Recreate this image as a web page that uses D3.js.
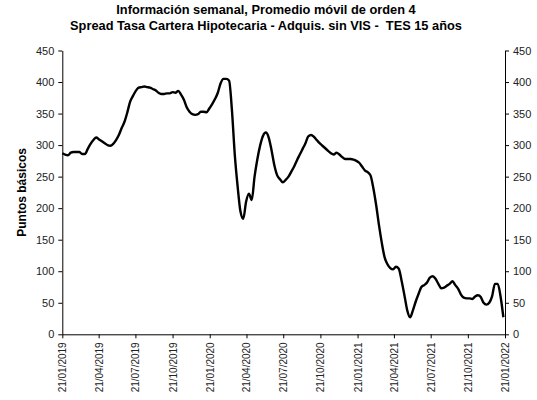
<!DOCTYPE html>
<html>
<head>
<meta charset="utf-8">
<script src="https://cdn.jsdelivr.net/npm/d3@7"></script>
<style>
  body { margin: 0; background: #fff; }
  svg { display: block; font-family: "Liberation Sans", Arial, sans-serif; }
</style>
</head>
<body>
<div id="chart"></div>
<script>
// datos semanales (pb), desde 21/01/2019
const startDate = "2019-01-21";
const spread = [
  287, 285, 284, 288, 289, 289, 289, 286, 286, 294,
  302, 308, 312, 309, 306, 303, 300, 299, 302, 308,
  316, 327, 337, 352, 369, 378, 386, 391, 392, 393,
  392, 391, 389, 387, 383, 381, 381, 382, 382, 384,
  383, 386, 380, 372, 360, 353, 349, 348, 349, 353,
  353, 352, 358, 365, 373, 383, 398, 405, 405, 402,
  355, 285, 235, 195, 183, 210, 223, 213, 250, 278,
  300, 315, 320, 312, 292, 268, 252, 246, 241, 245,
  250, 258, 266, 276, 285, 294, 303, 314, 316, 313,
  308, 303, 299, 295, 291, 287, 285, 288, 285, 281,
  278, 278, 278, 277, 275, 272, 266, 260, 257, 252,
  232, 205, 173, 145, 122, 111, 105, 103, 107, 104,
  85, 62, 38, 27, 38, 52, 64, 75, 78, 82,
  90, 92, 88, 80, 73, 74, 77, 80, 84, 78,
  72, 63, 58, 57, 57, 56, 60, 62, 59, 50,
  47, 50, 60, 80, 80, 60, 27
];
const tickDates = [
  "21/01/2019", "21/04/2019", "21/07/2019", "21/10/2019",
  "21/01/2020", "21/04/2020", "21/07/2020", "21/10/2020",
  "21/01/2021", "21/04/2021", "21/07/2021", "21/10/2021", "21/01/2022"
];
const yTicks = [0, 50, 100, 150, 200, 250, 300, 350, 400, 450];
const titleLines = [
  "Información semanal, Promedio móvil de orden 4",
  "Spread Tasa Cartera Hipotecaria - Adquis. sin VIS -  TES 15 años"
];

const width = 537, height = 400;
const margin = { top: 50.5, right: 32, bottom: 65.7, left: 62.3 };

const parse = d3.timeParse("%d/%m/%Y");
const t0 = d3.isoParse(startDate);
const series = spread.map((v, i) => ({ date: d3.timeDay.offset(t0, i * 7), value: v }));
const ticks = tickDates.map(parse);

const svg = d3.select("#chart").append("svg")
  .attr("width", width).attr("height", height);

const x = d3.scaleTime()
  .domain([ticks[0], ticks[ticks.length - 1]])
  .range([margin.left, width - margin.right]);
const y = d3.scaleLinear()
  .domain([0, 450])
  .range([height - margin.bottom, margin.top]);

const fmt = d3.timeFormat("%d/%m/%Y");

// eje x
const gx = svg.append("g")
  .attr("transform", `translate(0,${height - margin.bottom})`)
  .call(d3.axisBottom(x).tickValues(ticks).tickFormat(fmt).tickSize(4).tickSizeOuter(0));
gx.selectAll("text")
  .attr("transform", "rotate(-90)")
  .attr("text-anchor", "end")
  .attr("x", -8).attr("y", 0).attr("dy", "0.35em")
  .style("font-size", "10px").attr("fill", "#222");

// eje y izquierdo
const gyl = svg.append("g")
  .attr("transform", `translate(${margin.left},0)`)
  .call(d3.axisLeft(y).tickValues(yTicks).tickSize(4).tickSizeOuter(0));
gyl.selectAll("text").style("font-size", "11px").attr("fill", "#222").attr("x", -8);

// eje y derecho
const gyr = svg.append("g")
  .attr("transform", `translate(${width - margin.right},0)`)
  .call(d3.axisRight(y).tickValues(yTicks).tickSize(4).tickSizeOuter(0));
gyr.selectAll("text").style("font-size", "11px").attr("fill", "#222").attr("x", 8);

svg.selectAll(".domain, .tick line").attr("stroke", "#000");

// línea
svg.append("path")
  .datum(series)
  .attr("fill", "none")
  .attr("stroke", "#000")
  .attr("stroke-width", 2.4)
  .attr("stroke-linejoin", "round")
  .attr("d", d3.line().x(d => x(d.date)).y(d => y(d.value)).curve(d3.curveMonotoneX));

// títulos
svg.selectAll("text.title").data(titleLines).enter().append("text")
  .attr("class", "title")
  .attr("x", 266).attr("y", (d, i) => 13.5 + i * 16)
  .attr("text-anchor", "middle")
  .style("font-size", "12.8px").style("font-weight", "bold")
  .style("white-space", "pre")
  .text(d => d);

svg.append("text")
  .attr("transform", `translate(26,${(margin.top + height - margin.bottom) / 2}) rotate(-90)`)
  .attr("text-anchor", "middle")
  .style("font-size", "12px").style("font-weight", "bold")
  .text("Puntos básicos");
</script>
</body>
</html>
